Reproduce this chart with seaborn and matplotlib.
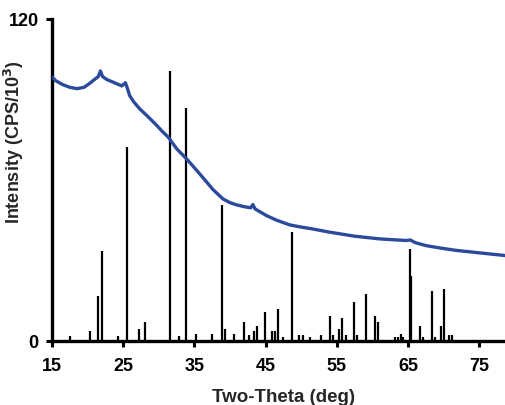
import numpy as np
import pandas as pd
import matplotlib
matplotlib.use("Agg")
import matplotlib.pyplot as plt
import seaborn as sns

# Measured pattern (blue curve)
curve_theta = [15.0, 15.5, 16.5, 17.5, 18.5, 19.5, 20.3, 21.0, 21.5, 21.8, 22.1, 22.7,
               23.5, 24.3, 24.8, 25.3, 25.6, 25.9, 26.5, 27.3, 28.5, 29.7, 30.5, 31.3,
               32.5, 33.9, 35.0, 36.2, 37.6, 39.0, 40.0, 40.9, 42.0, 42.9, 43.2, 43.5,
               45.1, 46.5, 48.4, 50.0, 51.6, 54.0, 57.5, 61.0, 64.75, 65.3, 66.0, 67.5,
               69.5, 71.8, 75.0, 78.6]
curve_intensity = [98.4, 97.0, 95.5, 94.5, 94.0, 94.5, 96.0, 97.5, 98.5, 100.6, 98.5, 97.4,
                   96.5, 95.6, 95.0, 96.2, 94.0, 91.4, 89.0, 86.5, 83.5, 80.3, 78.0, 76.0,
                   71.6, 67.8, 64.5, 60.8, 56.4, 52.9, 51.5, 50.7, 50.0, 49.6, 50.8, 49.2,
                   46.7, 45.0, 43.2, 42.4, 41.7, 40.5, 39.0, 38.0, 37.4, 37.6, 36.6, 35.5,
                   34.6, 33.7, 32.8, 31.8]

# Reference peaks (black sticks)
peak_theta = [17.5, 20.4, 21.5, 22.05, 24.2, 25.55, 27.2, 28.1, 31.5, 32.85, 33.75, 35.2,
              37.5, 38.8, 39.3, 40.6, 42.0, 42.7, 43.3, 43.8, 44.9, 45.95, 46.3, 46.75,
              47.4, 48.75, 49.7, 50.25, 51.2, 52.8, 54.0, 54.45, 55.3, 55.65, 56.3, 57.35,
              57.8, 59.1, 60.4, 60.8, 63.1, 63.6, 64.05, 64.3, 65.2, 65.4, 66.6, 67.1,
              68.3, 68.8, 69.65, 70.0, 70.7, 71.1]
peak_height = [1.7, 3.8, 16.9, 33.6, 1.7, 72.3, 4.5, 7.0, 100.6, 1.7, 86.8, 2.6,
               2.6, 50.7, 4.5, 2.6, 7.0, 2.0, 3.8, 5.7, 10.7, 3.8, 3.8, 11.9,
               1.5, 40.6, 2.0, 2.0, 1.5, 2.0, 9.4, 2.0, 4.5, 8.7, 2.0, 14.3,
               2.0, 17.5, 9.4, 7.0, 1.5, 1.5, 2.5, 1.5, 34.3, 24.2, 5.7, 1.5,
               18.7, 1.5, 5.7, 19.4, 2.0, 2.0]

x_ticks = [15, 25, 35, 45, 55, 65, 75]
y_ticks = [0, 120]

sns.set_style("ticks")
plt.rcParams["font.family"] = ["Liberation Sans", "DejaVu Sans"]
plt.rcParams["font.weight"] = "bold"

fig = plt.figure(figsize=(5.05, 4.06), dpi=100)
ax = fig.add_axes([0.103, 0.158, 0.897, 0.793])

ax.vlines(peak_theta, 0, peak_height, colors="black", linewidth=1.6, zorder=2)

df = pd.DataFrame({"theta": curve_theta, "intensity": curve_intensity})
sns.lineplot(data=df, x="theta", y="intensity", ax=ax, color="#2b4a9c",
             linewidth=2.4, zorder=3)

ax.set_xlim(15, 78.6)
ax.set_ylim(0, 120)
ax.set_xticks(x_ticks)
ax.set_yticks(y_ticks)
ax.set_xticklabels([str(t) for t in x_ticks], fontsize=13, fontweight="bold")
ax.set_yticklabels([str(t) for t in y_ticks], fontsize=13, fontweight="bold")

for side in ["top", "right"]:
    ax.spines[side].set_visible(False)
for side in ["left", "bottom"]:
    ax.spines[side].set_linewidth(2.4)
    ax.spines[side].set_color("black")

ax.tick_params(axis="both", direction="out", length=4.5, width=2.2, colors="black")
ax.tick_params(axis="x", pad=7)
ax.tick_params(axis="y", pad=5)

ax.set_xlabel("Two-Theta (deg)", fontsize=13.5, fontweight="bold")
ax.set_ylabel("Intensity (CPS/10$^{\\mathbf{3}}$)", fontsize=13, fontweight="bold")
ax.yaxis.set_label_coords(-0.058, 0.62)
ax.xaxis.set_label_coords(0.51, -0.145)

fig.savefig("out.png", dpi=100, facecolor="white")
